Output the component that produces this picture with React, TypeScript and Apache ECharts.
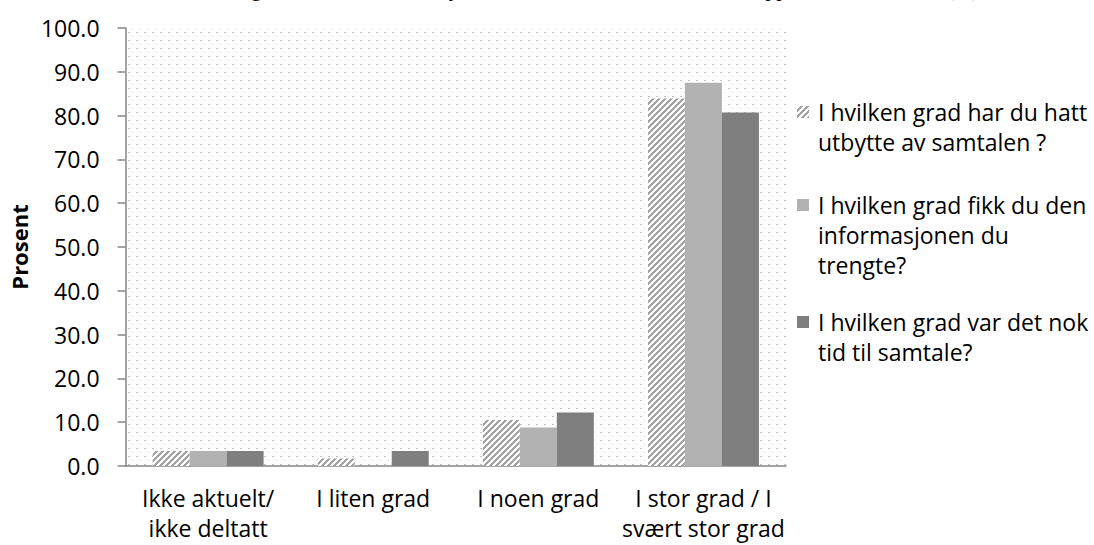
import React, { useEffect, useRef } from "react";
import * as echarts from "echarts";

// Survey answers (percent) per response category
const categories = [
  "Ikke aktuelt/\nikke deltatt",
  "I liten grad",
  "I noen grad",
  "I stor grad / I\nsvært stor grad",
];

const seriesNames = [
  "I hvilken grad har du hatt utbytte av samtalen ?",
  "I hvilken grad fikk du den informasjonen du trengte?",
  "I hvilken grad var det nok tid til samtale?",
];

// Legend text split into the lines it is printed on
const legendLines = [
  ["I hvilken grad har du hatt", "utbytte av samtalen ?"],
  ["I hvilken grad fikk du den", "informasjonen du", "trengte?"],
  ["I hvilken grad var det nok", "tid til samtale?"],
];

const utbytte = [3.4, 1.7, 10.5, 83.9];
const informasjon = [3.4, 0, 8.8, 87.5];
const nokTid = [3.4, 3.4, 12.2, 80.7];

const yTicks = { min: 0, max: 100, interval: 10 };

const titleText =
  "Figur 5.3: Brukernes utbytte av samtalen med veileder ved oppmøte, 2012–2013 (%)";

const FONT = "'Open Sans', 'Noto Sans', sans-serif";

function makeTile(size: number, paint: (x: number, y: number) => string | null) {
  const c = document.createElement("canvas");
  c.width = size;
  c.height = size;
  const ctx = c.getContext("2d")!;
  ctx.fillStyle = "#ffffff";
  ctx.fillRect(0, 0, size, size);
  for (let y = 0; y < size; y++) {
    for (let x = 0; x < size; x++) {
      const col = paint(x, y);
      if (col) {
        ctx.fillStyle = col;
        ctx.fillRect(x, y, 1, 1);
      }
    }
  }
  return c.toDataURL();
}

export default function App() {
  const ref = useRef<HTMLDivElement>(null);

  useEffect(() => {
    if (!ref.current) return;
    const chart = echarts.init(ref.current, null, { renderer: "svg" });

    // diagonal "/" hatching for the first series
    const hatch = {
      image: makeTile(6, (x, y) => ((x + y) % 6 < 3 ? "#a3a3a3" : null)),
      imageWidth: 6,
      imageHeight: 6,
      repeat: "repeat",
    };
    // fine dotted fill of the plot area
    const dots = {
      image: makeTile(8, (x, y) => {
        if ((x === 0 || x === 1) && y === 0) return "#c2c2c2";
        if (x === 4 && y === 4) return "#d6d6d6";
        return null;
      }),
      imageWidth: 8,
      imageHeight: 8,
      repeat: "repeat",
    };

    const colors: any[] = [hatch, "#b2b2b2", "#7f7f7f"];
    const values = [utbytte, informasjon, nokTid];

    // legend drawn as graphic items so the wrapped lines sit beside the swatch
    const legendTop = [112, 205, 322];
    const legendGraphics: any[] = [];
    legendLines.forEach((lines, i) => {
      legendGraphics.push({
        type: "rect",
        shape: { x: 797, y: legendTop[i] - 6, width: 12, height: 12 },
        style: { fill: colors[i] },
      });
      legendGraphics.push({
        type: "text",
        x: 818,
        y: legendTop[i] - 15,
        style: {
          text: lines.join("\n"),
          font: `23px ${FONT}`,
          lineHeight: 30,
          fill: "#000",
          verticalAlign: "top",
          align: "left",
        },
      });
    });

    chart.setOption({
      animation: false,
      backgroundColor: "#ffffff",
      grid: {
        left: 120,
        right: 308,
        top: 28,
        bottom: 79,
        show: true,
        backgroundColor: dots,
        borderWidth: 0,
      },
      xAxis: {
        type: "category",
        data: categories,
        axisLine: { lineStyle: { color: "#868686", width: 1.5 } },
        axisTick: { length: 8, lineStyle: { color: "#868686", width: 1.5 } },
        axisLabel: {
          interval: 0,
          margin: 17,
          color: "#000",
          fontFamily: FONT,
          fontSize: 23,
          lineHeight: 30,
        },
      },
      yAxis: {
        type: "value",
        min: yTicks.min,
        max: yTicks.max,
        interval: yTicks.interval,
        name: "Prosent",
        nameLocation: "middle",
        nameRotate: 90,
        nameGap: 86,
        nameTextStyle: {
          color: "#000",
          fontFamily: FONT,
          fontSize: 22,
          fontWeight: "bold",
        },
        splitLine: { show: false },
        axisLine: { show: true, lineStyle: { color: "#868686", width: 1.5 } },
        axisTick: { show: true, length: 8, lineStyle: { color: "#868686", width: 1.5 } },
        axisLabel: {
          margin: 26,
          color: "#000",
          fontFamily: FONT,
          fontSize: 23,
          formatter: (v: number) => v.toFixed(1),
        },
      },
      series: seriesNames.map((name, i) => ({
        name,
        type: "bar",
        data: values[i],
        barWidth: 37,
        barGap: "0%",
        itemStyle: { color: colors[i] },
      })),
      graphic: [
        {
          type: "text",
          x: 606,
          y: -23,
          style: {
            text: titleText,
            font: "22px 'Liberation Serif', 'Times New Roman', serif",
            fill: "#000",
            align: "center",
            verticalAlign: "top",
          },
        },
        ...legendGraphics,
      ],
    });

    return () => chart.dispose();
  }, []);

  return (
    <div
      ref={ref}
      style={{ position: "fixed", left: 0, top: 0, width: 1094, height: 545 }}
    />
  );
}
